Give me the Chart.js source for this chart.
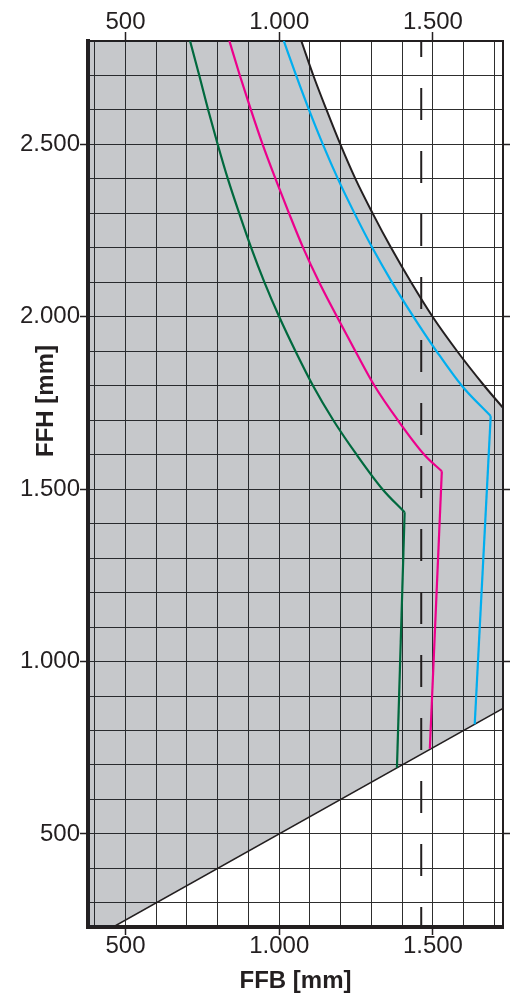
<!DOCTYPE html>
<html>
<head>
<meta charset="utf-8">
<script src="https://cdn.jsdelivr.net/npm/chart.js@4.4.1/dist/chart.umd.min.js"></script>
<style>
  html, body { margin: 0; padding: 0; background: #ffffff; }
  canvas { display: block; }
</style>
</head>
<body>
<canvas id="ffbChart" width="511" height="994"></canvas>
<script>
// axis ranges and ticks (FFB = x, FFH = y)
const ffbRange = [378, 1728];
const ffhRange = [230, 2800];
const ffbGrid = [400, 500, 600, 700, 800, 900, 1000, 1100, 1200, 1300, 1400, 1500, 1600, 1700];
const ffhGrid = [300, 400, 500, 600, 700, 800, 900, 1000, 1100, 1200, 1300, 1400, 1500, 1600, 1700,
  1800, 1900, 2000, 2100, 2200, 2300, 2400, 2500, 2600, 2700];
const ffbTicks = [500, 1000, 1500];
const ffbTickLabels = ["500", "1.000", "1.500"];
const ffhTicks = [500, 1000, 1500, 2000, 2500];
const ffhTickLabels = ["500", "1.000", "1.500", "2.000", "2.500"];

// upper limit curve (black)
const limitFFB = [1072, 1111, 1154, 1199, 1248, 1304, 1364, 1429, 1499, 1579, 1667, 1728];
const limitFFH = [2800, 2700, 2600, 2500, 2400, 2300, 2200, 2100, 2000, 1900, 1800, 1736];

// lower limit line (black)
const lowerFFB = [460, 1728];
const lowerFFH = [230, 864];

// green curve + its near-vertical drop
const greenFFB = [710, 740, 769, 800, 833, 870, 909, 952, 1000, 1053, 1110, 1176, 1252, 1336, 1408];
const greenFFH = [2800, 2700, 2600, 2500, 2400, 2300, 2200, 2100, 2000, 1900, 1800, 1700, 1600, 1500, 1433];
const greenDropFFB = [1408, 1383];
const greenDropFFH = [1433, 692];

// magenta curve + drop
const magentaFFB = [838, 872, 908, 946, 988, 1032, 1078, 1130, 1188, 1248, 1310, 1386, 1472, 1529];
const magentaFFH = [2800, 2700, 2600, 2500, 2400, 2300, 2200, 2100, 2000, 1900, 1800, 1700, 1600, 1552];
const magentaDropFFB = [1529, 1490];
const magentaDropFFH = [1552, 747];

// cyan curve + drop
const cyanFFB = [1015, 1055, 1097, 1142, 1191, 1245, 1303, 1367, 1437, 1512, 1594, 1688];
const cyanFFH = [2800, 2700, 2600, 2500, 2400, 2300, 2200, 2100, 2000, 1900, 1800, 1712];
const cyanDropFFB = [1688, 1636];
const cyanDropFFH = [1712, 818];

// dashed vertical marker
const dashFFB = [1462, 1462];
const dashFFH = [2800, 230];

const FONT = "'Liberation Sans', Arial, sans-serif";
const INK = "#231f20";
const GREEN = "#00693e";
const MAGENTA = "#ec008c";
const CYAN = "#00aeef";

function toPoints(xs, ys) {
  return xs.map((x, i) => ({ x: x, y: ys[i] }));
}

// gray area: top edge, limit curve, right edge, lower line, left edge
function buildAreaPoints() {
  const pts = [{ x: ffbRange[0], y: ffhRange[1] }];
  toPoints(limitFFB, limitFFH).forEach((p) => pts.push(p));
  pts.push({ x: ffbRange[1], y: lowerFFH[1] });
  pts.push({ x: lowerFFB[0], y: lowerFFH[0] });
  pts.push({ x: ffbRange[0], y: ffhRange[0] });
  pts.push({ x: ffbRange[0], y: ffhRange[1] });
  return pts;
}

function labelFor(values, labels, value) {
  const i = values.indexOf(value);
  return i >= 0 ? labels[i] : "";
}

function onlyMajor(majors) {
  return (ctx) => (ctx.tick && majors.includes(ctx.tick.value) ? INK : "rgba(0,0,0,0)");
}

function lineSet(xs, ys, color, width, smooth) {
  return {
    data: toPoints(xs, ys),
    showLine: true,
    borderColor: color,
    backgroundColor: color,
    borderWidth: width,
    borderJoinStyle: "miter",
    pointRadius: 0,
    fill: false,
    tension: 0,
    cubicInterpolationMode: smooth ? "monotone" : "default",
  };
}

const yTitlePlugin = {
  id: "yTitle",
  afterDraw(chart) {
    const ctx = chart.ctx;
    ctx.save();
    ctx.translate(53, 401);
    ctx.rotate(-Math.PI / 2);
    ctx.fillStyle = INK;
    ctx.font = "bold 24px " + FONT;
    ctx.textAlign = "center";
    ctx.textBaseline = "alphabetic";
    ctx.fillText("FFH [mm]", 0, 0);
    ctx.restore();
  },
};

const dashSet = lineSet(dashFFB, dashFFH, INK, 2, false);
dashSet.borderDash = [32, 31];
dashSet.borderDashOffset = 16;

// first dataset in the list ends up on top, the gray area goes last
new Chart(document.getElementById("ffbChart"), {
  type: "scatter",
  data: {
    datasets: [
      lineSet(greenFFB, greenFFH, GREEN, 2.2, true),
      lineSet(greenDropFFB, greenDropFFH, GREEN, 2.2, false),
      lineSet(magentaFFB, magentaFFH, MAGENTA, 2.2, true),
      lineSet(magentaDropFFB, magentaDropFFH, MAGENTA, 2.2, false),
      lineSet(cyanFFB, cyanFFH, CYAN, 2.2, true),
      lineSet(cyanDropFFB, cyanDropFFH, CYAN, 2.2, false),
      dashSet,
      lineSet(limitFFB, limitFFH, INK, 2, true),
      lineSet(lowerFFB, lowerFFH, INK, 1.5, false),
      {
        data: buildAreaPoints(),
        showLine: true,
        borderWidth: 0,
        borderColor: "rgba(0,0,0,0)",
        backgroundColor: "rgba(27,35,47,0.25)",
        pointRadius: 0,
        fill: "shape",
        tension: 0,
      },
    ],
  },
  options: {
    responsive: false,
    devicePixelRatio: 1,
    animation: false,
    layout: { padding: 0 },
    plugins: {
      legend: { display: false },
      tooltip: { enabled: false },
    },
    scales: {
      x: {
        type: "linear",
        position: "bottom",
        min: ffbRange[0],
        max: ffbRange[1],
        afterBuildTicks: (s) => { s.ticks = ffbGrid.map((v) => ({ value: v })); },
        afterFit: (s) => { s.height = 67; },
        grid: { color: "#2e2e2e", lineWidth: 1, tickLength: 8, tickColor: onlyMajor(ffbTicks), tickWidth: 1.5 },
        border: { display: true, color: INK, width: 4 },
        ticks: {
          autoSkip: false,
          maxRotation: 0,
          padding: -1,
          color: INK,
          font: { family: FONT, size: 24, lineHeight: 1 },
          callback: (v) => labelFor(ffbTicks, ffbTickLabels, v),
        },
        title: {
          display: true,
          text: "FFB [mm]",
          color: INK,
          font: { family: FONT, size: 24, weight: "bold", lineHeight: 1 },
          padding: { top: 0, bottom: 1 },
        },
      },
      x2: {
        type: "linear",
        position: "top",
        min: ffbRange[0],
        max: ffbRange[1],
        afterBuildTicks: (s) => { s.ticks = ffbTicks.map((v) => ({ value: v })); },
        afterFit: (s) => { s.height = 41; },
        grid: { drawOnChartArea: false, tickLength: 9, tickColor: INK, tickWidth: 1.5 },
        border: { display: true, color: INK, width: 2 },
        ticks: {
          autoSkip: false,
          maxRotation: 0,
          padding: -2,
          color: INK,
          font: { family: FONT, size: 24, lineHeight: 1 },
          callback: (v) => labelFor(ffbTicks, ffbTickLabels, v),
        },
      },
      y: {
        type: "linear",
        position: "left",
        min: ffhRange[0],
        max: ffhRange[1],
        afterBuildTicks: (s) => { s.ticks = ffhGrid.map((v) => ({ value: v })); },
        afterFit: (s) => { s.width = 88; },
        grid: { color: "#2e2e2e", lineWidth: 1, tickLength: 8, tickColor: onlyMajor(ffhTicks), tickWidth: 1.5 },
        border: { display: true, color: INK, width: 4 },
        ticks: {
          autoSkip: false,
          padding: 0,
          color: INK,
          font: { family: FONT, size: 24, lineHeight: 1 },
          callback: (v) => labelFor(ffhTicks, ffhTickLabels, v),
        },
      },
      y2: {
        type: "linear",
        position: "right",
        min: ffhRange[0],
        max: ffhRange[1],
        afterBuildTicks: (s) => { s.ticks = ffhTicks.map((v) => ({ value: v })); },
        afterFit: (s) => { s.width = 8; },
        grid: { drawOnChartArea: false, tickLength: 7, tickColor: INK, tickWidth: 1.5 },
        border: { display: true, color: INK, width: 2 },
        ticks: { display: false },
      },
    },
  },
  plugins: [yTitlePlugin],
});
</script>
</body>
</html>
